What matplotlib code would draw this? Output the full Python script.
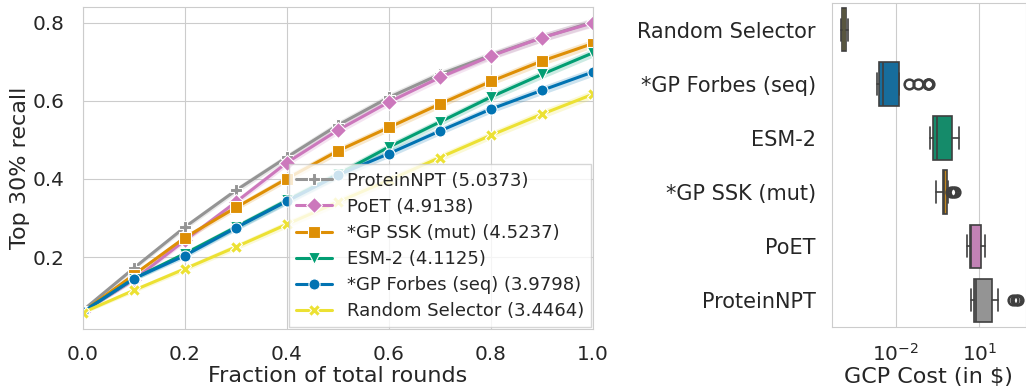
import numpy as np
import seaborn as sns
from matplotlib import pyplot as plt
from matplotlib.ticker import FixedLocator, NullLocator

sns.set_style("whitegrid")
plt.rcParams['font.family'] = ['DejaVu Sans']

# recall curves (left panel)
fractions = [0.0, 0.1, 0.2, 0.3, 0.4, 0.5, 0.6, 0.7, 0.8, 0.9, 1.0]
proteinnpt = [0.064, 0.172, 0.277, 0.371, 0.456, 0.538, 0.609, 0.668, 0.717, 0.762, 0.802]
poet = [0.060, 0.142, 0.243, 0.341, 0.442, 0.525, 0.597, 0.660, 0.715, 0.762, 0.800]
gp_ssk = [0.060, 0.155, 0.250, 0.327, 0.401, 0.472, 0.532, 0.592, 0.650, 0.702, 0.747]
esm2 = [0.060, 0.145, 0.209, 0.277, 0.345, 0.412, 0.482, 0.546, 0.610, 0.668, 0.723]
gp_forbes = [0.060, 0.145, 0.204, 0.275, 0.343, 0.410, 0.465, 0.523, 0.579, 0.627, 0.674]
random_sel = [0.058, 0.115, 0.170, 0.226, 0.284, 0.341, 0.397, 0.455, 0.512, 0.566, 0.617]
band = [0.004, 0.006, 0.007, 0.008, 0.009, 0.010, 0.010, 0.010, 0.010, 0.011, 0.011]

legend_labels = ['ProteinNPT (5.0373)', 'PoET (4.9138)', '*GP SSK (mut) (4.5237)',
                 'ESM-2 (4.1125)', '*GP Forbes (seq) (3.9798)', 'Random Selector (3.4464)']

# GCP cost box stats (right panel), top to bottom
methods = ['Random Selector', '*GP Forbes (seq)', 'ESM-2', '*GP SSK (mut)', 'PoET', 'ProteinNPT']
whislo = [1.07e-4, 2.15e-3, 0.174, 0.28, 3.7, 5.0]
q1 = [1.20e-4, 2.6e-3, 0.214, 0.49, 4.7, 6.5]
med = [1.41e-4, 3.4e-3, 0.316, 0.56, 5.0, 7.4]
q3 = [1.74e-4, 1.35e-2, 1.02, 0.72, 11.2, 29.0]
whishi = [2.04e-4, 1.35e-2, 1.9, 0.78, 16.2, 46.0]
fliers = [[], [0.029, 0.066, 0.14, 0.15, 0.16], [], [0.95, 1.1, 1.3], [], [165, 200, 250]]

gray_c = '#949494'
pink_c = '#cc78bc'
orange_c = '#de8f05'
green_c = '#029e73'
blue_c = '#0173b2'
yellow_c = '#ece133'
text_c = '#262626'

fig = plt.figure(figsize=(10.26, 3.89), dpi=100)
ax = fig.add_axes([0.0809, 0.1535, 0.497, 0.829])
ax2 = fig.add_axes([0.8106, 0.1586, 0.1894, 0.8344])

series = [
    (proteinnpt, gray_c, 'P'),
    (poet, pink_c, 'D'),
    (gp_ssk, orange_c, 's'),
    (esm2, green_c, 'v'),
    (gp_forbes, blue_c, 'o'),
    (random_sel, yellow_c, 'X'),
]
x = np.array(fractions)
for (ys, c, m), lab in zip(series, legend_labels):
    ys = np.array(ys)
    bw = np.array(band)
    ax.fill_between(x, ys - bw, ys + bw, color=c, alpha=0.2, linewidth=0)
    ax.plot(x, ys, color=c, linewidth=2.2, marker=m, markersize=8,
            markeredgecolor='white', markeredgewidth=0.8, label=lab)

ax.set_xlim(0, 1.0)
ax.set_ylim(0.015, 0.841)
ax.set_xticks([0.0, 0.2, 0.4, 0.6, 0.8, 1.0])
ax.set_yticks([0.2, 0.4, 0.6, 0.8])
ax.tick_params(labelsize=14.4, colors=text_c)
ax.tick_params(axis='y', pad=10)
ax.tick_params(axis='x', pad=8)
ax.set_xlabel('Fraction of total rounds', fontsize=16, color=text_c, labelpad=1)
ax.set_ylabel('Top 30% recall', fontsize=16, color=text_c, labelpad=2)
leg = ax.legend(loc='lower right', fontsize=13, borderaxespad=0.1, labelspacing=0.45,
                handlelength=2.0, framealpha=0.8, edgecolor='#cccccc', fancybox=False)
for t in leg.get_texts():
    t.set_color(text_c)

# boxplot
stats = []
for i in range(len(methods)):
    stats.append(dict(label=methods[i], whislo=whislo[i], q1=q1[i], med=med[i],
                      q3=q3[i], whishi=whishi[i], fliers=fliers[i]))
box_colors = [yellow_c, blue_c, green_c, orange_c, pink_c, gray_c]
edge = '#3f3f3f'
bp = ax2.bxp(stats, positions=range(len(methods)), vert=False, widths=0.8,
             patch_artist=True,
             boxprops=dict(edgecolor=edge, linewidth=1.2),
             medianprops=dict(color=edge, linewidth=1.2),
             whiskerprops=dict(color=edge, linewidth=1.2),
             capprops=dict(color=edge, linewidth=1.2),
             flierprops=dict(marker='o', markerfacecolor='none', markeredgecolor=edge,
                             markersize=7, markeredgewidth=1.8))
for patch, c in zip(bp['boxes'], box_colors):
    patch.set_facecolor(sns.desaturate(c, 0.75))

ax2.set_xscale('log')
ax2.set_xlim(10 ** -4.29, 10 ** 2.67)
ax2.set_ylim(5.5, -0.5)
ax2.xaxis.set_major_locator(FixedLocator([1e-2, 1e1]))
ax2.xaxis.set_minor_locator(NullLocator())
ax2.grid(axis='y', visible=False)
ax2.set_yticks(range(len(methods)))
ax2.set_yticklabels(methods)
ax2.tick_params(axis='x', labelsize=14.4, colors=text_c, pad=8)
ax2.tick_params(axis='y', labelsize=15, colors=text_c, pad=8)
ax2.set_xlabel('GCP Cost (in $)', fontsize=16, color=text_c, labelpad=1)

plt.savefig('out.png', dpi=100)
